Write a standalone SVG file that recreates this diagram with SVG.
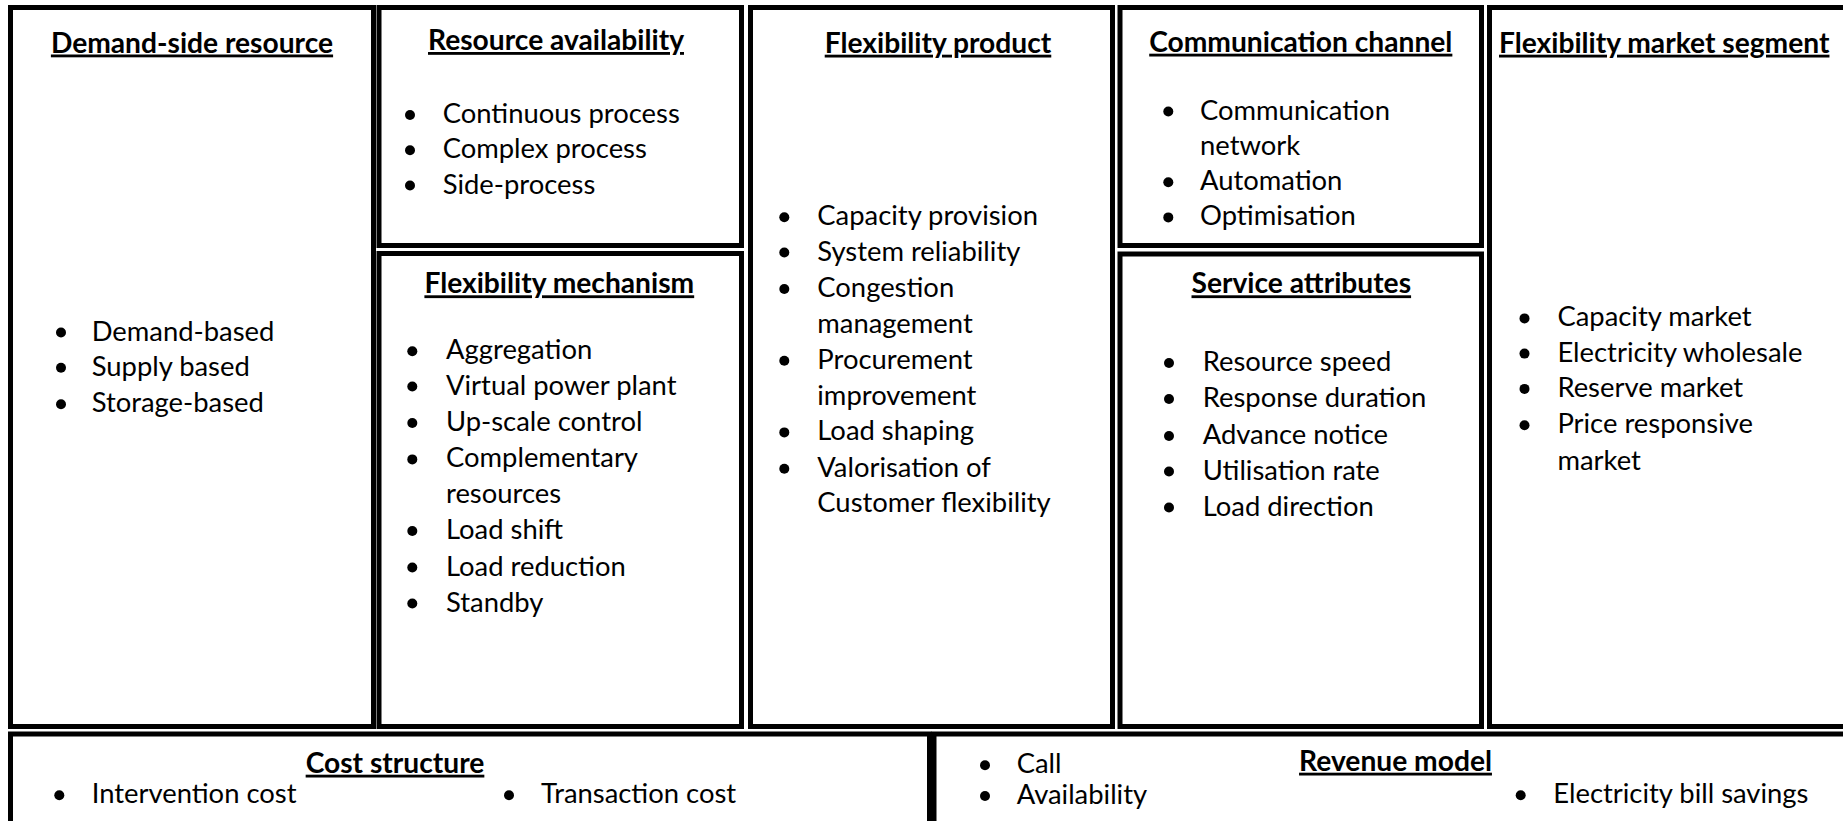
<svg xmlns="http://www.w3.org/2000/svg" width="1843" height="821" viewBox="0 0 1843 821">
<style>
.box{fill:#ffffff;stroke:#000000;stroke-width:5}
text{font-family:Lato,"Open Sans","Liberation Sans",sans-serif;font-size:27.4px;fill:#000000}
.t{font-weight:bold;font-size:28.2px;text-decoration:underline;text-anchor:middle}
.ts{font-weight:bold;font-size:28.2px;text-decoration:underline}
.b{fill:#000000}
</style>
<rect x="0" y="0" width="1843" height="821" fill="#ffffff"/>

<g id="demand-side-resource">
<rect class="box" x="10.5" y="7.5" width="363" height="719"/>
<text class="t" x="192" y="52.5">Demand-side resource</text>
<circle class="b" cx="61" cy="332.5" r="5"/><text x="91.7" y="340.5">Demand-based</text>
<circle class="b" cx="61" cy="367.7" r="5"/><text x="91.7" y="375.7">Supply based</text>
<circle class="b" cx="61" cy="404.2" r="5"/><text x="91.7" y="412.2">Storage-based</text>
</g>

<g id="resource-availability">
<rect class="box" x="379" y="7.5" width="362.5" height="238"/>
<text class="t" x="556" y="50">Resource availability</text>
<circle class="b" cx="410" cy="115" r="5"/><text x="442.7" y="123">Continuous process</text>
<circle class="b" cx="410" cy="150.3" r="5"/><text x="442.7" y="158.3">Complex process</text>
<circle class="b" cx="410" cy="185.5" r="5"/><text x="442.7" y="193.5">Side-process</text>
</g>

<g id="flexibility-mechanism">
<rect class="box" x="379" y="253.5" width="362.5" height="473"/>
<text class="t" x="559.3" y="293.3">Flexibility mechanism</text>
<circle class="b" cx="412.3" cy="351.3" r="5"/><text x="446" y="359.3">Aggregation</text>
<circle class="b" cx="412.3" cy="386.5" r="5"/><text x="446" y="394.5">Virtual power plant</text>
<circle class="b" cx="412.3" cy="423" r="5"/><text x="446" y="431">Up-scale control</text>
<circle class="b" cx="412.3" cy="459.4" r="5"/><text x="446" y="467.4">Complementary</text>
<text x="446" y="502.7">resources</text>
<circle class="b" cx="412.3" cy="531" r="5"/><text x="446" y="539">Load shift</text>
<circle class="b" cx="412.3" cy="567.5" r="5"/><text x="446" y="575.5">Load reduction</text>
<circle class="b" cx="412.3" cy="603.5" r="5"/><text x="446" y="611.5">Standby</text>
</g>

<g id="flexibility-product">
<rect class="box" x="750.5" y="7.5" width="362" height="719"/>
<text class="t" x="938" y="52.7">Flexibility product</text>
<circle class="b" cx="784.3" cy="217.3" r="5"/><text x="817.3" y="225.3">Capacity provision</text>
<circle class="b" cx="784.3" cy="252.5" r="5"/><text x="817.3" y="260.5">System reliability</text>
<circle class="b" cx="784.3" cy="289" r="5"/><text x="817.3" y="297">Congestion</text>
<text x="817.3" y="333.4">management</text>
<circle class="b" cx="784.3" cy="360.7" r="5"/><text x="817.3" y="368.7">Procurement</text>
<text x="817.3" y="405">improvement</text>
<circle class="b" cx="784.3" cy="432.4" r="5"/><text x="817.3" y="440.4">Load shaping</text>
<circle class="b" cx="784.3" cy="468.8" r="5"/><text x="817.3" y="476.8">Valorisation of</text>
<text x="817.3" y="512.1">Customer flexibility</text>
</g>

<g id="communication-channel">
<rect class="box" x="1120" y="7.5" width="361.5" height="238"/>
<text class="t" x="1300.8" y="51.7">Communication channel</text>
<circle class="b" cx="1168.3" cy="111.5" r="5"/><text x="1200" y="119.5">Communication</text>
<text x="1200" y="154.7">network</text>
<circle class="b" cx="1168.3" cy="182.2" r="5"/><text x="1200" y="190.2">Automation</text>
<circle class="b" cx="1168.3" cy="217.4" r="5"/><text x="1200" y="225.4">Optimisation</text>
</g>

<g id="service-attributes">
<rect class="box" x="1120" y="254" width="361.5" height="472.5"/>
<text class="t" x="1301.3" y="293.3">Service attributes</text>
<circle class="b" cx="1169" cy="363" r="5"/><text x="1202.7" y="371">Resource speed</text>
<circle class="b" cx="1169" cy="399" r="5"/><text x="1202.7" y="407">Response duration</text>
<circle class="b" cx="1169" cy="436" r="5"/><text x="1202.7" y="444">Advance notice</text>
<circle class="b" cx="1169" cy="471.5" r="5"/><text x="1202.7" y="479.5">Utilisation rate</text>
<circle class="b" cx="1169" cy="507.5" r="5"/><text x="1202.7" y="515.5">Load direction</text>
</g>

<g id="flexibility-market-segment">
<rect class="box" x="1489.5" y="7.5" width="370" height="719"/>
<text class="ts" x="1499" y="52.7">Flexibility market segment</text>
<circle class="b" cx="1524.5" cy="318.4" r="5"/><text x="1557.4" y="326.4">Capacity market</text>
<circle class="b" cx="1524.5" cy="353.6" r="5"/><text x="1557.4" y="361.6">Electricity wholesale</text>
<circle class="b" cx="1524.5" cy="388.9" r="5"/><text x="1557.4" y="396.9">Reserve market</text>
<circle class="b" cx="1524.5" cy="425.3" r="5"/><text x="1557.4" y="433.3">Price responsive</text>
<text x="1557.4" y="469.8">market</text>
</g>

<g id="cost-structure">
<rect class="box" x="10.5" y="734" width="919" height="100"/>
<text class="t" x="395" y="772.7">Cost structure</text>
<circle class="b" cx="59.3" cy="795.3" r="5"/><text x="91.7" y="803.3">Intervention cost</text>
<circle class="b" cx="509" cy="795.3" r="5"/><text x="541" y="803.3">Transaction cost</text>
</g>

<g id="revenue-model">
<rect class="box" x="934" y="734" width="925" height="100"/>
<text class="t" x="1395.5" y="770.7">Revenue model</text>
<circle class="b" cx="985" cy="765.3" r="5"/><text x="1016.7" y="773.3">Call</text>
<circle class="b" cx="985" cy="796" r="5"/><text x="1016.7" y="804">Availability</text>
<circle class="b" cx="1520.7" cy="795.3" r="5"/><text x="1553.3" y="803.3">Electricity bill savings</text>
</g>

<g id="connectors"></g>
</svg>
